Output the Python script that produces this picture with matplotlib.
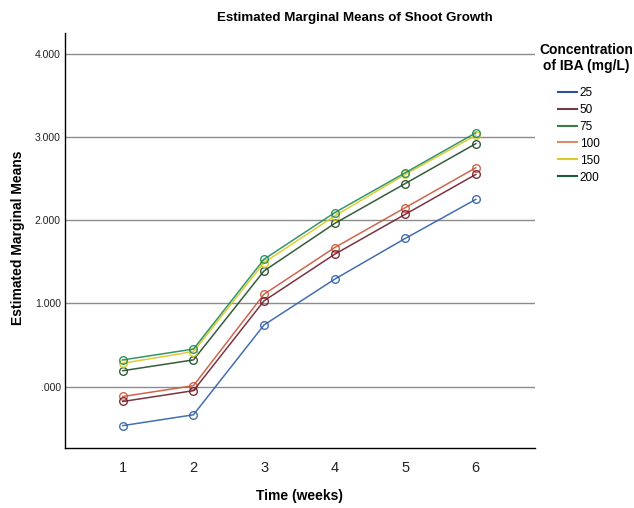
import matplotlib.pyplot as plt
from matplotlib.ticker import FuncFormatter

weeks = [1, 2, 3, 4, 5, 6]
conc_labels = ["25", "50", "75", "100", "150", "200"]
means_25 = [-0.47, -0.34, 0.74, 1.29, 1.78, 2.25]
means_50 = [-0.18, -0.05, 1.03, 1.59, 2.07, 2.55]
means_75 = [0.19, 0.32, 1.39, 1.96, 2.44, 2.92]
means_100 = [-0.12, 0.01, 1.11, 1.67, 2.15, 2.63]
means_150 = [0.28, 0.42, 1.49, 2.05, 2.55, 3.02]
means_200 = [0.32, 0.45, 1.53, 2.09, 2.57, 3.05]
series = [means_25, means_50, means_75, means_100, means_150, means_200]
line_colors = ["#2f5fa8", "#6e1d2b", "#1f4a25", "#c8553a", "#dcc81c", "#1f8a5c"]
legend_colors = ["#2f4f9a", "#6e3a45", "#3e7d45", "#d88c6e", "#dccb2a", "#1d5a3c"]

plt.rcParams['font.family'] = ['Liberation Sans', 'DejaVu Sans']

fig = plt.figure(figsize=(6.34, 5.08), dpi=100)
ax = fig.add_axes([0.1025, 0.118, 0.7415, 0.817])

for i in [3, 1, 0, 2, 4, 5]:
    ax.plot(weeks, series[i], color=line_colors[i], lw=1.1, marker='o',
            ms=5.5, mfc='none', mec=line_colors[i], mew=1.0, alpha=0.9, zorder=3)

for y in [0, 1, 2, 3, 4]:
    ax.axhline(y, color='#8c8c8c', lw=1.0, zorder=1)

ax.set_xlim(0.18, 6.84)
ax.set_ylim(-0.74, 4.25)
ax.set_xticks(weeks)
ax.set_yticks([0, 1, 2, 3, 4])
ax.yaxis.set_major_formatter(FuncFormatter(lambda v, p: ("%.3f" % v).lstrip('0') if v < 1 else "%.3f" % v))
ax.tick_params(axis='both', length=0, colors='#222222')
ax.tick_params(axis='x', labelsize=10.5, pad=9)
ax.tick_params(axis='y', labelsize=7.5, pad=3)
for s in ['top', 'right']:
    ax.spines[s].set_visible(False)
for s in ['left', 'bottom']:
    ax.spines[s].set_color('black')
    ax.spines[s].set_linewidth(1.0)

fig.text(355 / 634, 1 - 18 / 508, "Estimated Marginal Means of Shoot Growth",
         ha='center', va='center', fontsize=9.6, fontweight='bold')
fig.text(300 / 634, 1 - 496 / 508, "Time (weeks)", ha='center', va='center',
         fontsize=10, fontweight='bold')
fig.text(18 / 634, 1 - 238 / 508, "Estimated Marginal Means", ha='center',
         va='center', rotation=90, fontsize=10, fontweight='bold')
fig.text(586 / 634, 1 - 58 / 508, "Concentration\nof IBA (mg/L)", ha='center',
         va='center', fontsize=10, fontweight='bold', linespacing=1.2)

handles = [plt.Line2D([], [], color=c, lw=1.5) for c in legend_colors]
leg = fig.legend(handles, conc_labels, loc='upper left',
                 bbox_to_anchor=(553 / 634, 1 - 82 / 508), frameon=False,
                 fontsize=8.5, handlelength=1.6, handletextpad=0.25,
                 labelspacing=0.42, borderaxespad=0)

fig.savefig("out.png", dpi=100)
